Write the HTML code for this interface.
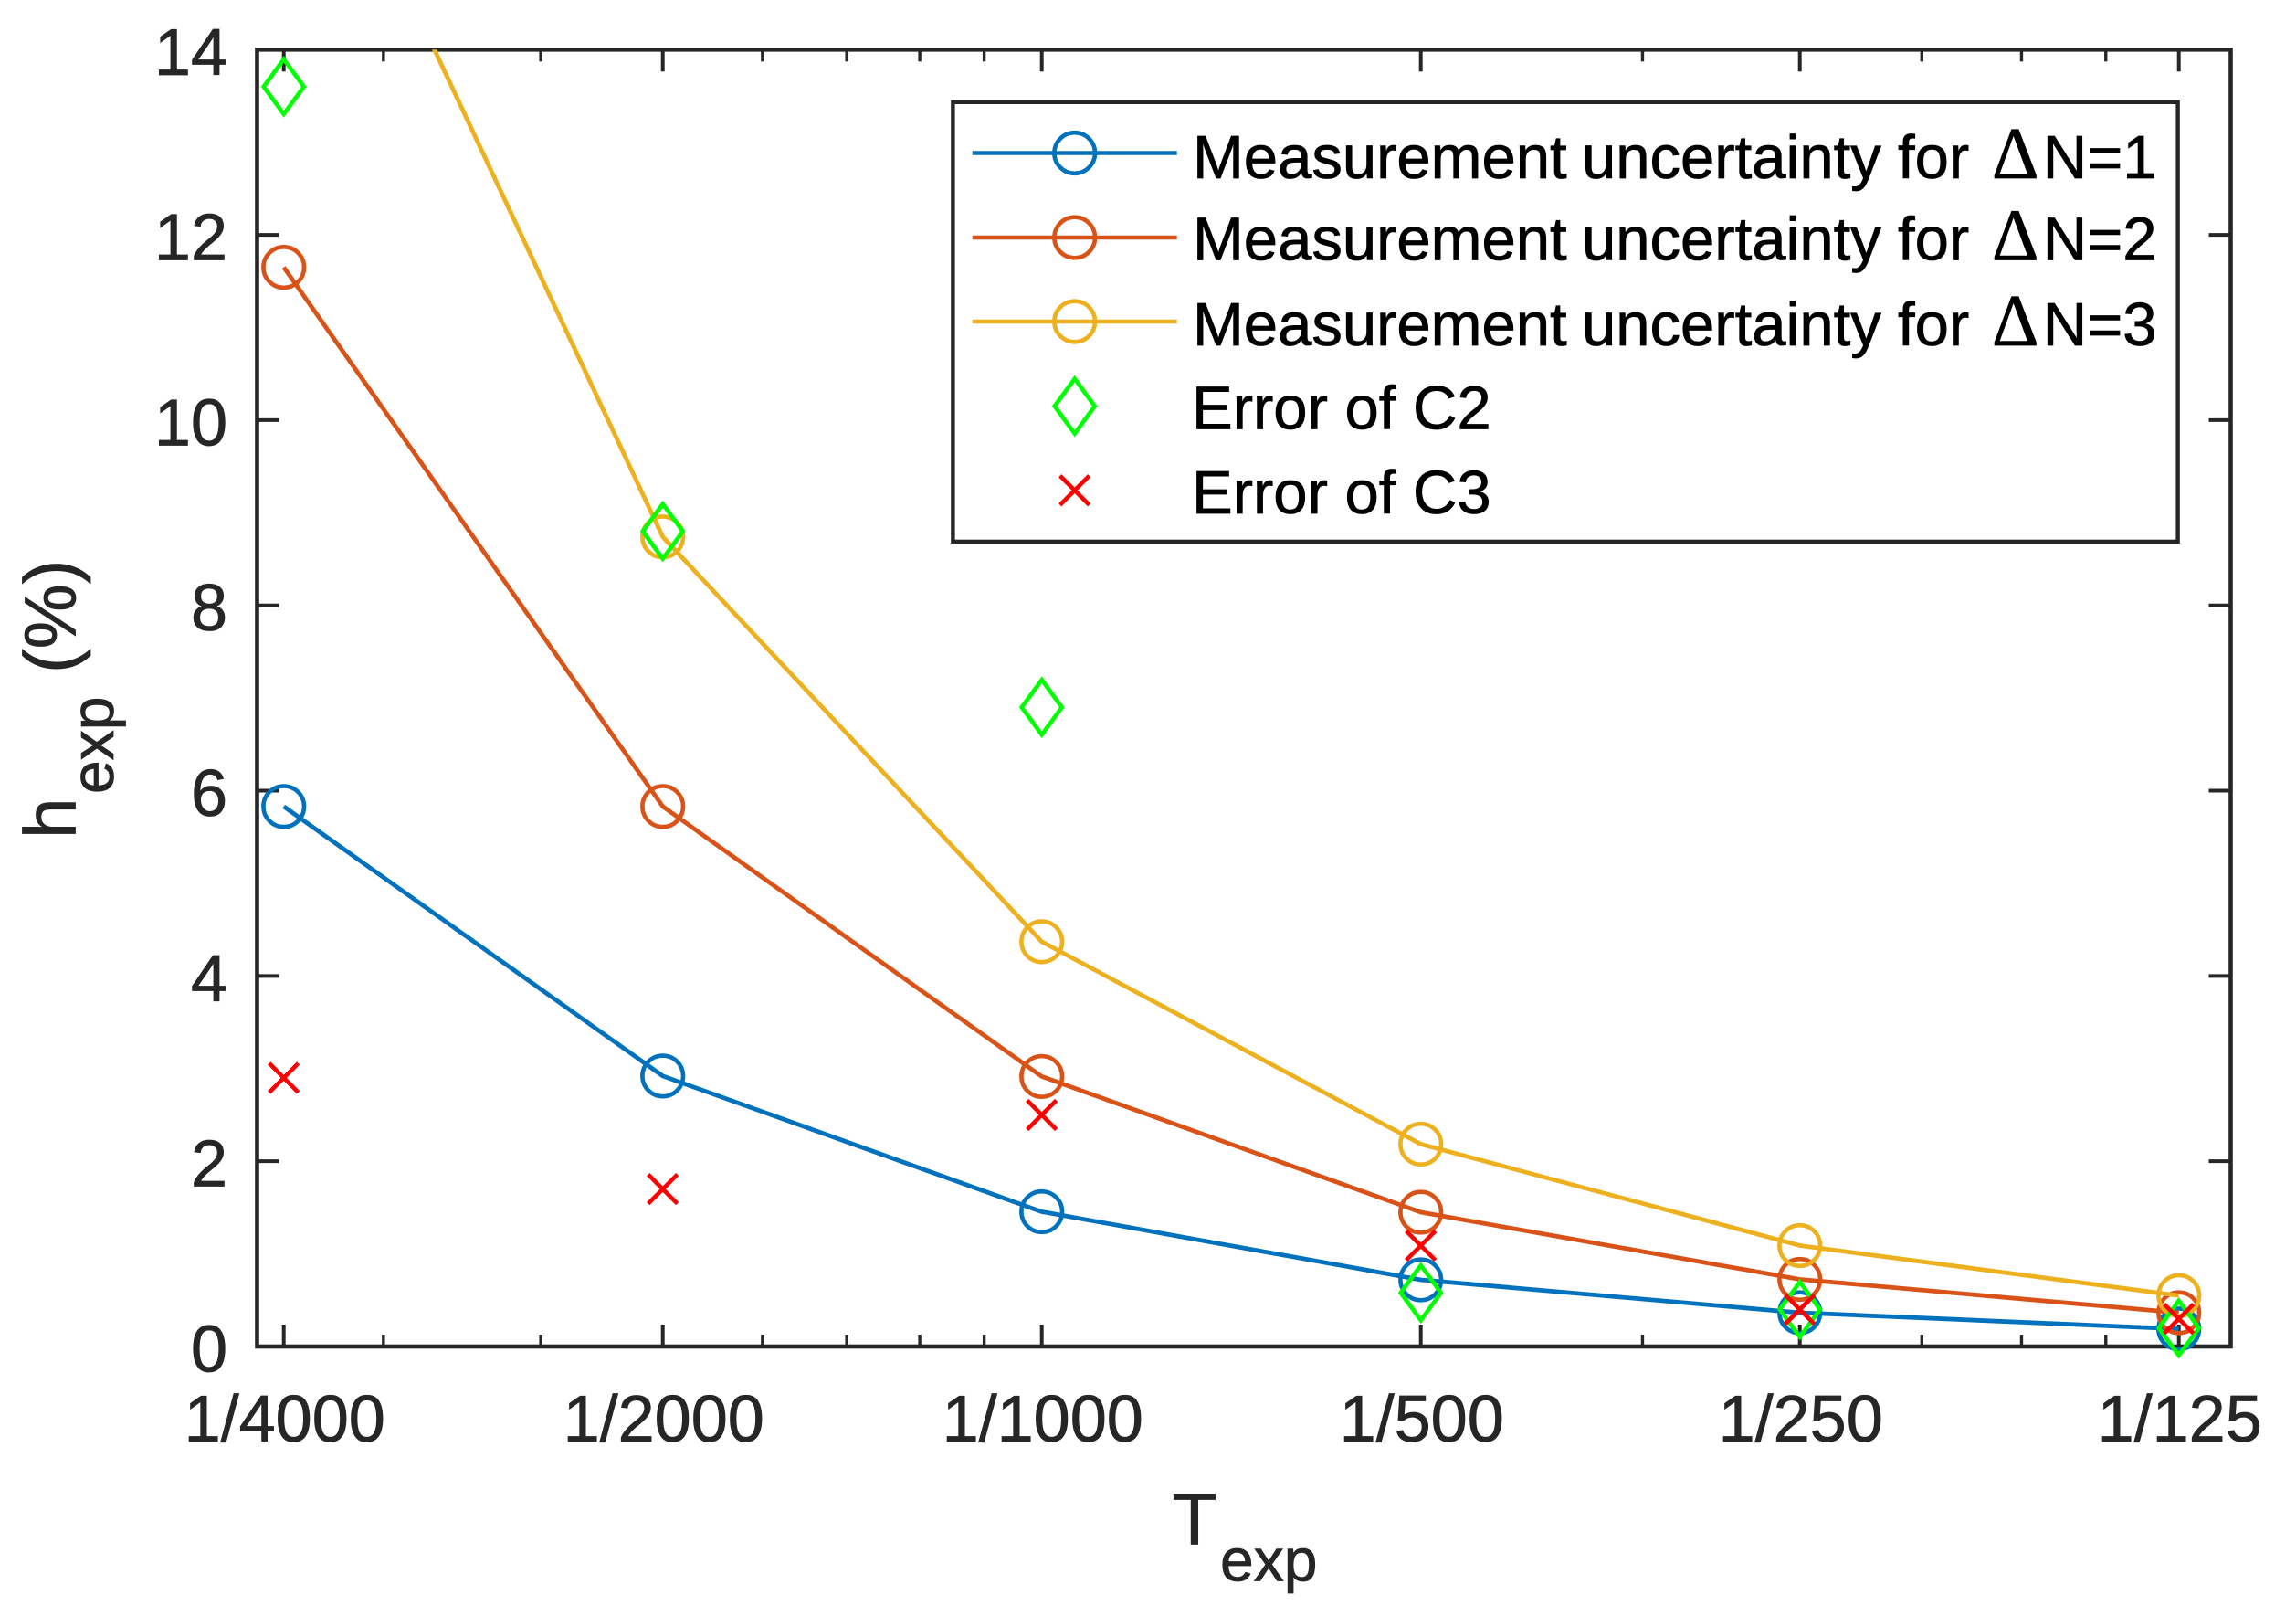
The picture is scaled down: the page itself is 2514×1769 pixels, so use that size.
<!DOCTYPE html>
<html lang="en">
<head>
<meta charset="utf-8">
<title>Measurement uncertainty and error versus exposure time</title>
<style>
html,body{margin:0;padding:0;background:#fff;}
svg{display:block;}
text{font-family:"Liberation Sans",Arial,sans-serif;stroke-width:.8px;}
text[fill="#262626"]{stroke:#262626;}
text[fill="#000"]{stroke:#000;}
</style>
</head>
<body>
<svg id="chart" xmlns="http://www.w3.org/2000/svg" width="2514" height="1769" viewBox="0 0 2514 1769">
  <defs><clipPath id="plot-clip"><rect x="281.5" y="54.3" width="2161" height="1419.7"/></clipPath></defs>
  <rect x="0" y="0" width="2514" height="1769" fill="#ffffff"/>
  <g id="axes-layer"></g>
  <g id="series-layer"></g>

  <text fill="#262626" font-size="80"><tspan x="1283.5" y="1690.7">T</tspan><tspan x="1336" y="1730.5" font-size="66">exp</tspan></text>
  <text fill="#262626" font-size="80" transform="translate(82.7,918) rotate(-90)"><tspan x="0" y="0">h</tspan><tspan x="49" y="41.3" font-size="66">exp</tspan><tspan x="181" y="0">(%)</tspan></text>

  <g>
    <rect x="1043.4" y="111.8" width="1341.2" height="481.1" fill="#ffffff" stroke="#262626" stroke-width="4.4"/>
    <g>
      <line x1="1064.7" x2="1288.7" y1="167.5" y2="167.5" stroke="#0072BD" stroke-width="4.6"/>
      <circle cx="1176.7" cy="167.5" r="22.3" fill="none" stroke="#0072BD" stroke-width="4.6"/>
      <text fill="#000" font-size="67"><tspan x="1306" y="195">Measurement</tspan><tspan x="1732" y="195">uncertainty</tspan><tspan x="2078" y="195">for</tspan><tspan x="2181" y="195" font-size="80" font-family="'Liberation Serif',serif">Δ</tspan><tspan x="2236.7" y="195">N=1</tspan></text>
    </g>
    <g>
      <line x1="1064.7" x2="1288.7" y1="260" y2="260" stroke="#D95319" stroke-width="4.6"/>
      <circle cx="1176.7" cy="260" r="22.3" fill="none" stroke="#D95319" stroke-width="4.6"/>
      <text fill="#000" font-size="67"><tspan x="1306" y="284.3">Measurement</tspan><tspan x="1732" y="284.3">uncertainty</tspan><tspan x="2078" y="284.3">for</tspan><tspan x="2181" y="284.3" font-size="80" font-family="'Liberation Serif',serif">Δ</tspan><tspan x="2236.7" y="284.3">N=2</tspan></text>
    </g>
    <g>
      <line x1="1064.7" x2="1288.7" y1="352" y2="352" stroke="#EDB120" stroke-width="4.6"/>
      <circle cx="1176.7" cy="352" r="22.3" fill="none" stroke="#EDB120" stroke-width="4.6"/>
      <text fill="#000" font-size="67"><tspan x="1306" y="378">Measurement</tspan><tspan x="1732" y="378">uncertainty</tspan><tspan x="2078" y="378">for</tspan><tspan x="2181" y="378" font-size="80" font-family="'Liberation Serif',serif">Δ</tspan><tspan x="2236.7" y="378">N=3</tspan></text>
    </g>
    <g>
      <polygon points="1154.7,444.6 1176.7,414.6 1198.7,444.6 1176.7,474.6" fill="none" stroke="#00FF00" stroke-width="4.6"/>
      <text fill="#000" font-size="67" x="1305" y="469.6">Error of C2</text>
    </g>
    <g>
      <path d="M1160.7 520.8L1192.7 552.8M1160.7 552.8L1192.7 520.8" fill="none" stroke="#FF0000" stroke-width="4.6"/>
      <text fill="#000" font-size="67" x="1305" y="561.8">Error of C3</text>
    </g>
  </g>
</svg>
<script>
// ---- chart data ----
const exposureDenominators = [4000, 2000, 1000, 500, 250, 125];
const xTickLabels = ['1/4000', '1/2000', '1/1000', '1/500', '1/250', '1/125'];
const xMinorTicks = [3e-4, 4e-4, 6e-4, 7e-4, 8e-4, 9e-4, 3e-3, 5e-3, 6e-3, 7e-3];
const yTicks = [0, 2, 4, 6, 8, 10, 12, 14];
const uncertaintyDN1 = [5.83, 2.92, 1.455, 0.72, 0.365, 0.19];
const uncertaintyDN2 = [11.65, 5.83, 2.915, 1.45, 0.725, 0.365];
const uncertaintyDN3 = [17.47, 8.74, 4.37, 2.185, 1.09, 0.55];
const errorC2 = [13.6, 8.8, 6.9, 0.58, 0.4, 0.2];
const errorC3 = [2.9, 1.7, 2.5, 1.09, 0.4, 0.3];

// ---- axis functions ----
const plotLeft = 281.5, plotRight = 2442.5, plotTop = 54.3, plotBottom = 1474;
const yMax = 14;
function xOf(t) { return 310.7 + 415 * Math.log2(t * 4000); }
function yOf(v) { return plotBottom - (plotBottom - plotTop) * v / yMax; }

const NS = 'http://www.w3.org/2000/svg';
const axesLayer = document.getElementById('axes-layer');
const seriesLayer = document.getElementById('series-layer');
function make(tag, attrs, parent) {
  const el = document.createElementNS(NS, tag);
  for (const k in attrs) el.setAttribute(k, attrs[k]);
  parent.appendChild(el);
  return el;
}
const axisColor = '#262626';

// axes box
const box = make('rect', {x: plotLeft, y: plotTop, width: plotRight - plotLeft, height: plotBottom - plotTop, fill: 'none', stroke: axisColor, 'stroke-width': 4.6}, axesLayer);



// x major ticks and labels
exposureDenominators.forEach(function (d, i) {
  const x = xOf(1 / d);
  const b = make('line', {x1: x, x2: x, y1: plotBottom, y2: plotBottom - 24, stroke: axisColor, 'stroke-width': 4}, axesLayer);
  
  
  const t = make('line', {x1: x, x2: x, y1: plotTop, y2: plotTop + 24, stroke: axisColor, 'stroke-width': 4}, axesLayer);
  
  
  const label = make('text', {x: x + 1, y: 1578, 'text-anchor': 'middle', 'font-size': 72, fill: axisColor}, axesLayer);
  
  
  label.textContent = xTickLabels[i];
});

// x minor ticks
xMinorTicks.forEach(function (v) {
  const x = xOf(v);
  const b = make('line', {x1: x, x2: x, y1: plotBottom, y2: plotBottom - 13, stroke: axisColor, 'stroke-width': 3.4}, axesLayer);
  
  
  const t = make('line', {x1: x, x2: x, y1: plotTop, y2: plotTop + 13, stroke: axisColor, 'stroke-width': 3.4}, axesLayer);
  
  
});

// y ticks and labels
yTicks.forEach(function (v) {
  const y = yOf(v);
  const l = make('line', {x1: plotLeft, x2: plotLeft + 24, y1: y, y2: y, stroke: axisColor, 'stroke-width': 4}, axesLayer);
  
  
  const r = make('line', {x1: plotRight, x2: plotRight - 24, y1: y, y2: y, stroke: axisColor, 'stroke-width': 4}, axesLayer);
  
  
  const label = make('text', {x: 249, y: y + 27.5, 'text-anchor': 'end', 'font-size': 72, fill: axisColor}, axesLayer);
  
  
  label.textContent = String(v);
});

// uncertainty line series with circle markers
function drawLineSeries(values, color, name) {
  const g = make('g', {}, seriesLayer);
  
  
  const pts = values.map(function (v, i) { return xOf(1 / exposureDenominators[i]) + ',' + yOf(v); }).join(' ');
  const line = make('polyline', {points: pts, fill: 'none', stroke: color, 'stroke-width': 4.8, 'stroke-linejoin': 'round', 'clip-path': 'url(#plot-clip)'}, g);
  
  
  values.forEach(function (v, i) {
    if (v > yMax) return;
    const c = make('circle', {cx: xOf(1 / exposureDenominators[i]), cy: yOf(v), r: 22.3, fill: 'none', stroke: color, 'stroke-width': 4.6}, g);
    
    
  });
}
drawLineSeries(uncertaintyDN1, '#0072BD', 'series-dn1');
drawLineSeries(uncertaintyDN2, '#D95319', 'series-dn2');
drawLineSeries(uncertaintyDN3, '#EDB120', 'series-dn3');

// error of C2: diamonds
errorC2.forEach(function (v, i) {
  const x = xOf(1 / exposureDenominators[i]), y = yOf(v);
  const p = make('polygon', {points: (x - 22) + ',' + y + ' ' + x + ',' + (y - 30) + ' ' + (x + 22) + ',' + y + ' ' + x + ',' + (y + 30), fill: 'none', stroke: '#00FF00', 'stroke-width': 4.6}, seriesLayer);
  
  
});

// error of C3: crosses
errorC3.forEach(function (v, i) {
  const x = xOf(1 / exposureDenominators[i]), y = yOf(v);
  const p = make('path', {d: 'M' + (x - 16) + ' ' + (y - 16) + 'L' + (x + 16) + ' ' + (y + 16) + 'M' + (x - 16) + ' ' + (y + 16) + 'L' + (x + 16) + ' ' + (y - 16), fill: 'none', stroke: '#FF0000', 'stroke-width': 4.6}, seriesLayer);
  
  
});
</script>
</body>
</html>
